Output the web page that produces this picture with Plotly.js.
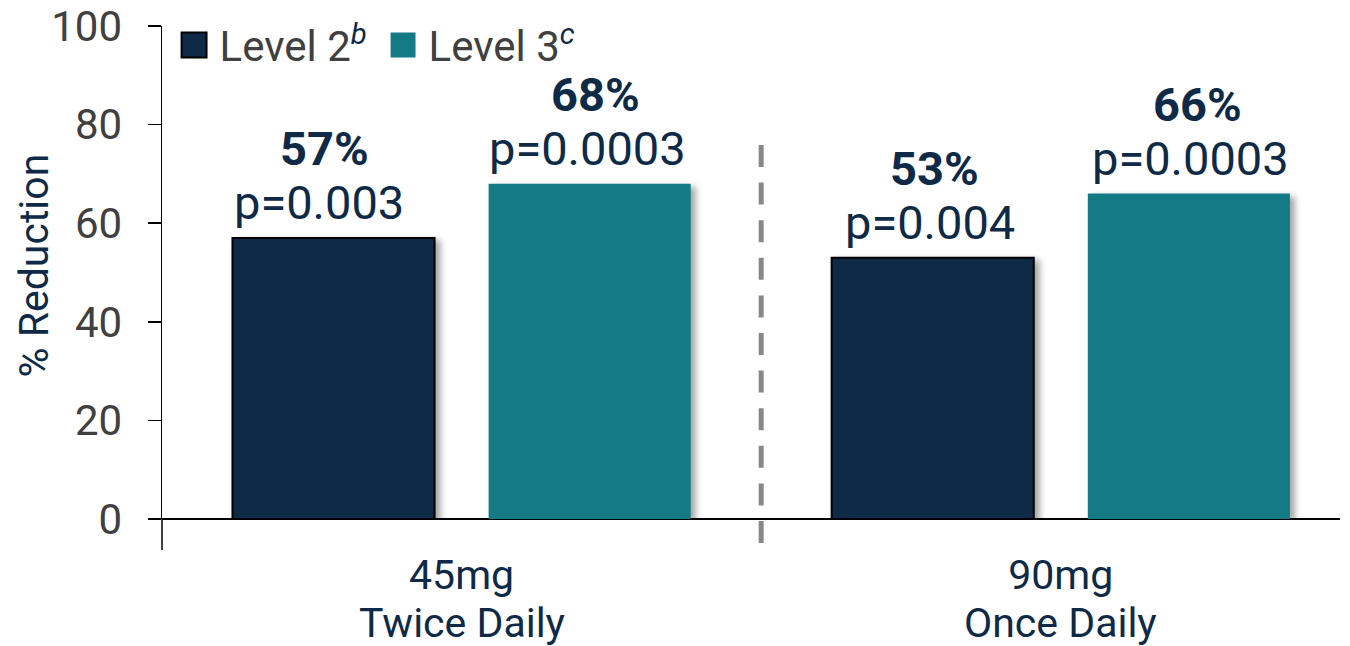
<!DOCTYPE html>
<html><head><meta charset="utf-8">
<script src="https://cdn.plot.ly/plotly-3.0.1.min.js"></script>
<style>
body{margin:0;background:#fff}
.barlayer .point path{filter:drop-shadow(5px 3px 3px rgba(0,0,0,0.35));}
.legend .legendpoints path{transform:translate(14.5px,0px) scale(2.08);vector-effect:non-scaling-stroke;}
</style></head><body><div id="chart" style="width:1350px;height:646px"></div>
<script>
const doses = ["45mg", "90mg"];
const schedules = ["Twice Daily", "Once Daily"];
const yTitle = "% Reduction";
const level2Name = 'Level 2<sup><i><span style="color:#0e2a47">b</span></i></sup>';
const level3Name = 'Level 3<sup><i><span style="color:#0e2a47">c</span></i></sup>';
const level2 = [57, 53];
const level3 = [68, 66];
const level2P = ["p=0.003", "p=0.004"];
const level3P = ["p=0.0003", "p=0.0003"];
const yTicks = [0, 20, 40, 60, 80, 100];

// layout-only label nudges (pixels), per series then category
const pctShift = [[-9, 2], [6, 9]];
const pShift = [[-15, -3], [-2, 2]];

const NAVY = '#0e2a47', TEAL = '#137a86';
const BARGAP = 0.145;
const XRANGE = [-0.5, 1.466];
const xIdx = doses.map((c, i) => i);
const labelFont = {family: 'Roboto', size: 47, color: NAVY};
const toPaperX = v => (v - XRANGE[0]) / (XRANGE[1] - XRANGE[0]);

const traces = [
  {type: 'bar', name: level2Name, x: xIdx, y: level2,
   marker: {color: NAVY, line: {color: '#000', width: 2}}, cliponaxis: false, hoverinfo: 'none'},
  {type: 'bar', name: level3Name, x: xIdx, y: level3,
   marker: {color: TEAL, line: {width: 0}}, cliponaxis: false, hoverinfo: 'none'}
];

const annotations = [];
[[level2, level2P, -1], [level3, level3P, 1]].forEach(([vals, ps, side], s) => {
  vals.forEach((v, i) => {
    const xc = i + side * (1 - BARGAP) / 4;
    annotations.push({x: xc, y: v, xref: 'x', yref: 'y', text: '<b>' + v + '%</b>', showarrow: false,
      yanchor: 'middle', yshift: 89, xshift: pctShift[s][i], font: labelFont});
    annotations.push({x: xc, y: v, xref: 'x', yref: 'y', text: ps[i], showarrow: false,
      yanchor: 'middle', yshift: 35, xshift: pShift[s][i], font: labelFont});
  });
});
schedules.forEach((s, i) => {
  annotations.push({x: i, y: 0, xref: 'x', yref: 'paper', text: s, showarrow: false,
    yanchor: 'middle', yshift: -104, font: {family: 'Roboto', size: 41, color: NAVY}});
});
annotations.push({x: 0, y: 0.5, xref: 'paper', yref: 'paper', text: yTitle, textangle: -90,
  showarrow: false, xanchor: 'center', yanchor: 'middle', xshift: -129, yshift: 7,
  font: {family: 'Roboto', size: 41, color: NAVY}});

const layout = {
  width: 1350, height: 646,
  margin: {l: 162, r: 10, t: 26, b: 127},
  paper_bgcolor: '#fff', plot_bgcolor: '#fff',
  barmode: 'group', bargap: BARGAP, bargroupgap: 0.211,
  font: {family: 'Roboto', color: '#404040'},
  showlegend: true,
  legend: {orientation: 'h', x: 0.0149, xanchor: 'left', y: 1.03, yanchor: 'top',
    entrywidth: 164, entrywidthmode: 'pixels',
    font: {family: 'Roboto', size: 42, color: '#404040'}, bgcolor: 'rgba(0,0,0,0)',
    traceorder: 'normal', itemclick: false},
  xaxis: {range: XRANGE, tickmode: 'array', tickvals: xIdx, ticktext: doses,
    ticks: '', showgrid: false, zeroline: false, showline: false,
    tickfont: {family: 'Roboto', size: 41, color: NAVY}, ticklabelstandoff: 28},
  yaxis: {range: [-0.0001, 100.0001], tickmode: 'array', tickvals: yTicks, ticks: 'outside', ticklen: 13,
    tickcolor: '#000', tickwidth: 1.5, showline: true, linecolor: '#000', linewidth: 1.5,
    showgrid: false, zeroline: true, zerolinecolor: '#000', zerolinewidth: 1.5,
    tickfont: {family: 'Roboto', size: 42, color: '#404040'}, ticklabelstandoff: 17},
  annotations: annotations,
  shapes: [
    {type: 'line', xref: 'paper', yref: 'paper', x0: toPaperX(-0.5), x1: toPaperX(-0.5),
     ysizemode: 'pixel', yanchor: 0, y0: 0, y1: -31, line: {color: '#000', width: 1.5}},
    {type: 'line', xref: 'paper', yref: 'paper', x0: toPaperX(0.5), x1: toPaperX(0.5),
     ysizemode: 'pixel', yanchor: 0, y0: -24, y1: 374,
     line: {color: '#888888', width: 5, dash: '22px,15.6px'}}
  ]
};

Plotly.newPlot('chart', traces, layout, {displayModeBar: false, staticPlot: true});
</script></body></html>
